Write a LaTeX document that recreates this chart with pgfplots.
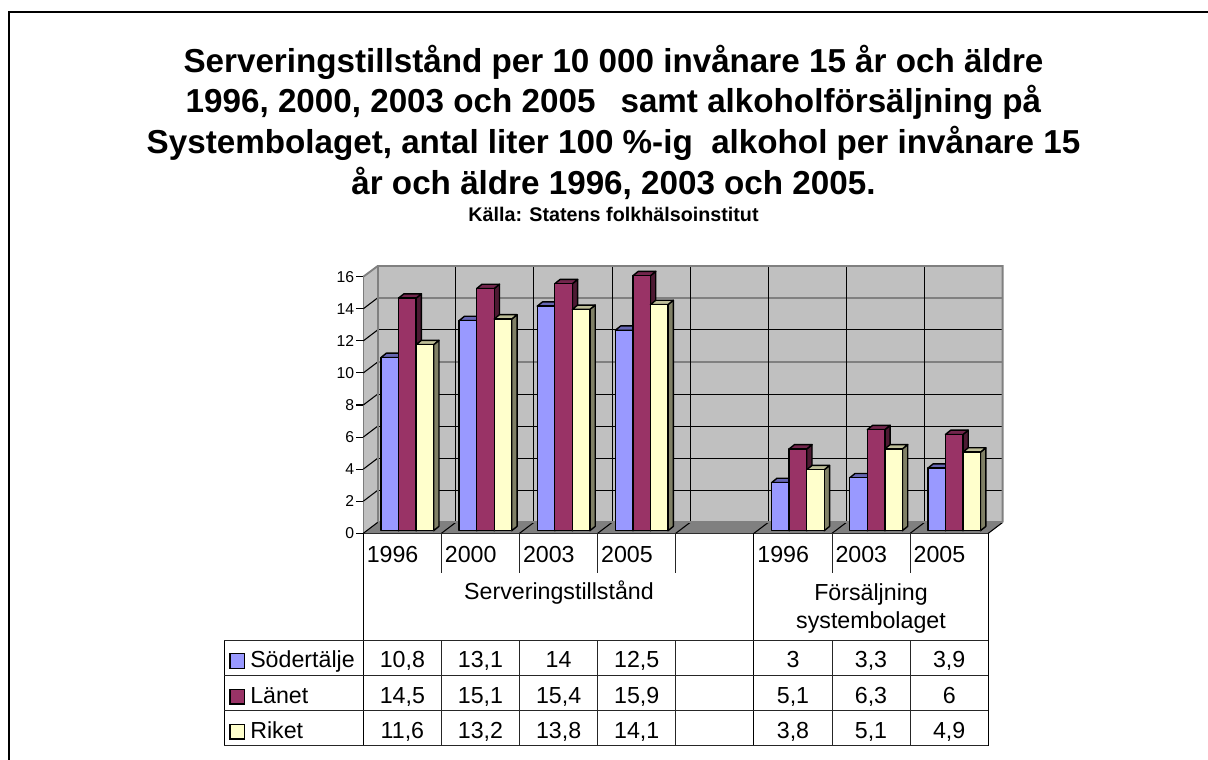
\documentclass[border=0pt]{standalone}
\usepackage{fontspec}
\setmainfont{Liberation Sans}
\usepackage{pgfplots}
\pgfplotsset{compat=1.18}
\definecolor{wall}{HTML}{C0C0C0}
\definecolor{floorgray}{HTML}{808080}
\definecolor{sodfront}{HTML}{9999FF}
\definecolor{sodtop}{HTML}{6666B3}
\definecolor{sodside}{HTML}{4D4D80}
\definecolor{lanfront}{HTML}{993366}
\definecolor{lantop}{HTML}{73264D}
\definecolor{lanside}{HTML}{4D1A33}
\definecolor{rikfront}{HTML}{FFFFCC}
\definecolor{riktop}{HTML}{BFBF99}
\definecolor{rikside}{HTML}{808066}

% one pseudo-3D column: series slot, category, value, colour prefix
\newcommand\threedbar[4]{%
  \pgfmathsetmacro\xa{#2+0.2266+#1*0.2245}%
  \pgfmathsetmacro\xb{\xa+0.2245}%
  \pgfmathsetmacro\xc{\xb+0.0683}%
  \pgfmathsetmacro\xd{\xa+0.0683}%
  \pgfmathsetmacro\yb{0.162}%
  \pgfmathsetmacro\yz{\yb+0.27}%
  \pgfmathsetmacro\yt{\yb+#3}%
  \pgfmathsetmacro\yu{\yt+0.27}%
  \addplot[barface,fill=#4side] coordinates {(\xb,\yb) (\xc,\yz) (\xc,\yu) (\xb,\yt)} --cycle;
  \addplot[barface,fill=#4top] coordinates {(\xa,\yt) (\xb,\yt) (\xc,\yu) (\xd,\yu)} --cycle;
  \addplot[barface,fill=#4front] coordinates {(\xa,\yb) (\xb,\yb) (\xb,\yt) (\xa,\yt)} --cycle;
}
\newcommand\cell[3]{\node[anchor=base,inner sep=0pt,font=\fontsize{17.4}{20}\selectfont] at (#1,#2) {#3};}

\begin{document}
\begin{tikzpicture}
\tikzset{barface/.style={draw=black,line width=1.05pt,line join=round,no marks}}
\begin{scope}[x=0.75pt,y=-0.75pt]
\path[use as bounding box] (0,0) rectangle (1208,760);
\draw[black,line width=1.6pt] (9,760) -- (9,12) -- (1208,12);
\node[anchor=base,inner sep=0pt,font=\fontsize{24.9}{28}\bfseries\selectfont] at (613.5,72) {Serveringstillstånd per 10 000 invånare 15 år och äldre};
\node[anchor=base,inner sep=0pt,font=\fontsize{24.9}{28}\bfseries\selectfont] at (613.5,112.7) {1996, 2000, 2003 och 2005\ \ \kern5pt samt alkoholförsäljning på};
\node[anchor=base,inner sep=0pt,font=\fontsize{24.9}{28}\bfseries\selectfont] at (613.5,153.3) {Systembolaget, antal liter 100 \%-ig\ \ alkohol per invånare 15};
\node[anchor=base,inner sep=0pt,font=\fontsize{24.9}{28}\bfseries\selectfont] at (613.5,194.3) {år och äldre 1996, 2003 och 2005.};
\node[anchor=base,inner sep=0pt,font=\fontsize{14.8}{17}\bfseries\selectfont] at (613.5,221.7) {Källa: Statens folkhälsoinstitut};
\end{scope}
\begin{axis}[
  at={(272.475pt,-399.975pt)},anchor=origin,
  scale only axis,width=468.75pt,height=192.45pt,
  xmin=0,xmax=8,ymin=0,ymax=16,
  clip=false,
  axis x line=bottom,axis y line=left,
  axis line style={draw=black,line width=0.8pt,-},
  xtick={0.375,1.375,2.375,3.375,5.375,6.375,7.375},
  xticklabels={1996,2000,2003,2005,1996,2003,2005},
  x tick style={draw=none},
  ytick={0,2,...,16},
  y tick style={draw=black,line width=0.8pt},
  tick align=outside,major tick length=5.25pt,
  x tick label style={font=\fontsize{17.4}{20}\selectfont,anchor=base,yshift=-16.5pt},
  y tick label style={font=\fontsize{11.8}{14}\selectfont,/pgf/number format/assume math mode=true,inner xsep=1.5pt},
  axis on top=false,
]
% walls and floor
\addplot[fill=wall,draw=none] coordinates {(0.184,0.68) (8.184,0.68) (8.184,16.665) (0.184,16.665)} --cycle;
\addplot[fill=wall,draw=none] coordinates {(0,0) (0.184,0.68) (0.184,16.665) (0,16)} --cycle;
\addplot[fill=floorgray,draw=none] coordinates {(0,0) (8,0) (8.184,0.68) (0.184,0.68)} --cycle;
% grid on the back wall
\addplot[black,line width=0.8pt] coordinates {(0.184,2.68) (8.184,2.68)};
\addplot[black,line width=0.8pt] coordinates {(0.184,4.68) (8.184,4.68)};
\addplot[black,line width=0.8pt] coordinates {(0.184,6.68) (8.184,6.68)};
\addplot[black,line width=0.8pt] coordinates {(0.184,8.68) (8.184,8.68)};
\addplot[floorgray,line width=1.4pt] coordinates {(0.184,10.68) (8.184,10.68)};
\addplot[black,line width=0.8pt] coordinates {(0.184,12.68) (8.184,12.68)};
\addplot[floorgray,line width=1.4pt] coordinates {(0.184,14.68) (8.184,14.68)};
\addplot[black,line width=0.8pt] coordinates {(1.184,0.68) (1.184,16.665)};
\addplot[black,line width=0.8pt] coordinates {(2.184,0.68) (2.184,16.665)};
\addplot[black,line width=0.8pt] coordinates {(3.184,0.68) (3.184,16.665)};
\addplot[black,line width=0.8pt] coordinates {(4.184,0.68) (4.184,16.665)};
\addplot[black,line width=0.8pt] coordinates {(5.184,0.68) (5.184,16.665)};
\addplot[black,line width=0.8pt] coordinates {(6.184,0.68) (6.184,16.665)};
\addplot[black,line width=0.8pt] coordinates {(7.184,0.68) (7.184,16.665)};
% diagonals on left wall
\addplot[black,line width=0.8pt] coordinates {(0,2) (0.184,2.68)};
\addplot[black,line width=0.8pt] coordinates {(0,4) (0.184,4.68)};
\addplot[black,line width=0.8pt] coordinates {(0,6) (0.184,6.68)};
\addplot[black,line width=0.8pt] coordinates {(0,8) (0.184,8.68)};
\addplot[black,line width=0.8pt] coordinates {(0,10) (0.184,10.68)};
\addplot[black,line width=0.8pt] coordinates {(0,12) (0.184,12.68)};
\addplot[black,line width=0.8pt] coordinates {(0,14) (0.184,14.68)};
% diagonals on the floor
\addplot[black,line width=0.8pt] coordinates {(0,0) (0.184,0.68)};
\addplot[black,line width=0.8pt] coordinates {(1,0) (1.184,0.68)};
\addplot[black,line width=0.8pt] coordinates {(2,0) (2.184,0.68)};
\addplot[black,line width=0.8pt] coordinates {(3,0) (3.184,0.68)};
\addplot[black,line width=0.8pt] coordinates {(4,0) (4.184,0.68)};
\addplot[black,line width=0.8pt] coordinates {(5,0) (5.184,0.68)};
\addplot[black,line width=0.8pt] coordinates {(6,0) (6.184,0.68)};
\addplot[black,line width=0.8pt] coordinates {(7,0) (7.184,0.68)};
\addplot[black,line width=0.8pt] coordinates {(8,0) (8.184,0.68)};
% wall outline
\addplot[floorgray,line width=1.4pt] coordinates {(0,16) (0.184,16.665) (8.184,16.665) (8.184,0.68)};
\addplot[floorgray,line width=1.4pt] coordinates {(0.184,0.68) (0.184,16.665)};
\addplot[floorgray,line width=1.4pt] coordinates {(0.184,0.68) (8.184,0.68)};
% Södertälje
\threedbar{0}{0}{10.8}{sod}\threedbar{0}{1}{13.1}{sod}\threedbar{0}{2}{14}{sod}\threedbar{0}{3}{12.5}{sod}
\threedbar{0}{5}{3}{sod}\threedbar{0}{6}{3.3}{sod}\threedbar{0}{7}{3.9}{sod}
% Länet
\threedbar{1}{0}{14.5}{lan}\threedbar{1}{1}{15.1}{lan}\threedbar{1}{2}{15.4}{lan}\threedbar{1}{3}{15.9}{lan}
\threedbar{1}{5}{5.1}{lan}\threedbar{1}{6}{6.3}{lan}\threedbar{1}{7}{6}{lan}
% Riket
\threedbar{2}{0}{11.6}{rik}\threedbar{2}{1}{13.2}{rik}\threedbar{2}{2}{13.8}{rik}\threedbar{2}{3}{14.1}{rik}
\threedbar{2}{5}{3.8}{rik}\threedbar{2}{6}{5.1}{rik}\threedbar{2}{7}{4.9}{rik}
\end{axis}
\begin{scope}[x=0.75pt,y=-0.75pt]
% data table under the axis
\draw[black,line width=0.75pt] (363.3,533.3) -- (363.3,745.7);
\draw[black,line width=0.75pt] (753.9,533.3) -- (753.9,745.7);
\draw[black,line width=0.75pt] (988.3,533.3) -- (988.3,745.7);
\foreach \x in {441.4,519.5,597.7,675.8,832,910.2} {
  \draw[black!85,line width=0.75pt] (\x,533.3) -- (\x,573);
  \draw[black!85,line width=0.75pt] (\x,640.3) -- (\x,745.7);
}
\draw[black,line width=0.75pt] (224.3,640.3) -- (224.3,745.7);
\foreach \y in {640.3,675.7,710.7,745.7}
  \draw[black!85,line width=0.75pt] (224.3,\y) -- (988.3,\y);
\cell{559}{599}{Serveringstillstånd}
\cell{871}{600}{Försäljning}
\cell{871}{628}{systembolaget}
% legend keys
\filldraw[fill=sodfront,draw=black,line width=0.8pt] (230,653.7) rectangle (244.7,668.3);
\filldraw[fill=lanfront,draw=black,line width=0.8pt] (230,689.3) rectangle (244.7,704);
\filldraw[fill=rikfront,draw=black,line width=0.8pt] (230,724.3) rectangle (244.7,739);
\node[anchor=base west,inner sep=0pt,font=\fontsize{17.4}{20}\selectfont] at (250,667.7) {Södertälje};
\node[anchor=base west,inner sep=0pt,font=\fontsize{17.4}{20}\selectfont] at (250,703) {Länet};
\node[anchor=base west,inner sep=0pt,font=\fontsize{17.4}{20}\selectfont] at (250,738) {Riket};
% values
\foreach \x/\a/\b/\c in {402.4/{10,8}/{14,5}/{11,6},480.5/{13,1}/{15,1}/{13,2},558.6/14/{15,4}/{13,8},636.7/{12,5}/{15,9}/{14,1},793/3/{5,1}/{3,8},871/{3,3}/{6,3}/{5,1},949.2/{3,9}/6/{4,9}} {
  \cell{\x}{667.7}{\a}
  \cell{\x}{703}{\b}
  \cell{\x}{738}{\c}
}
\end{scope}
\end{tikzpicture}
\end{document}
